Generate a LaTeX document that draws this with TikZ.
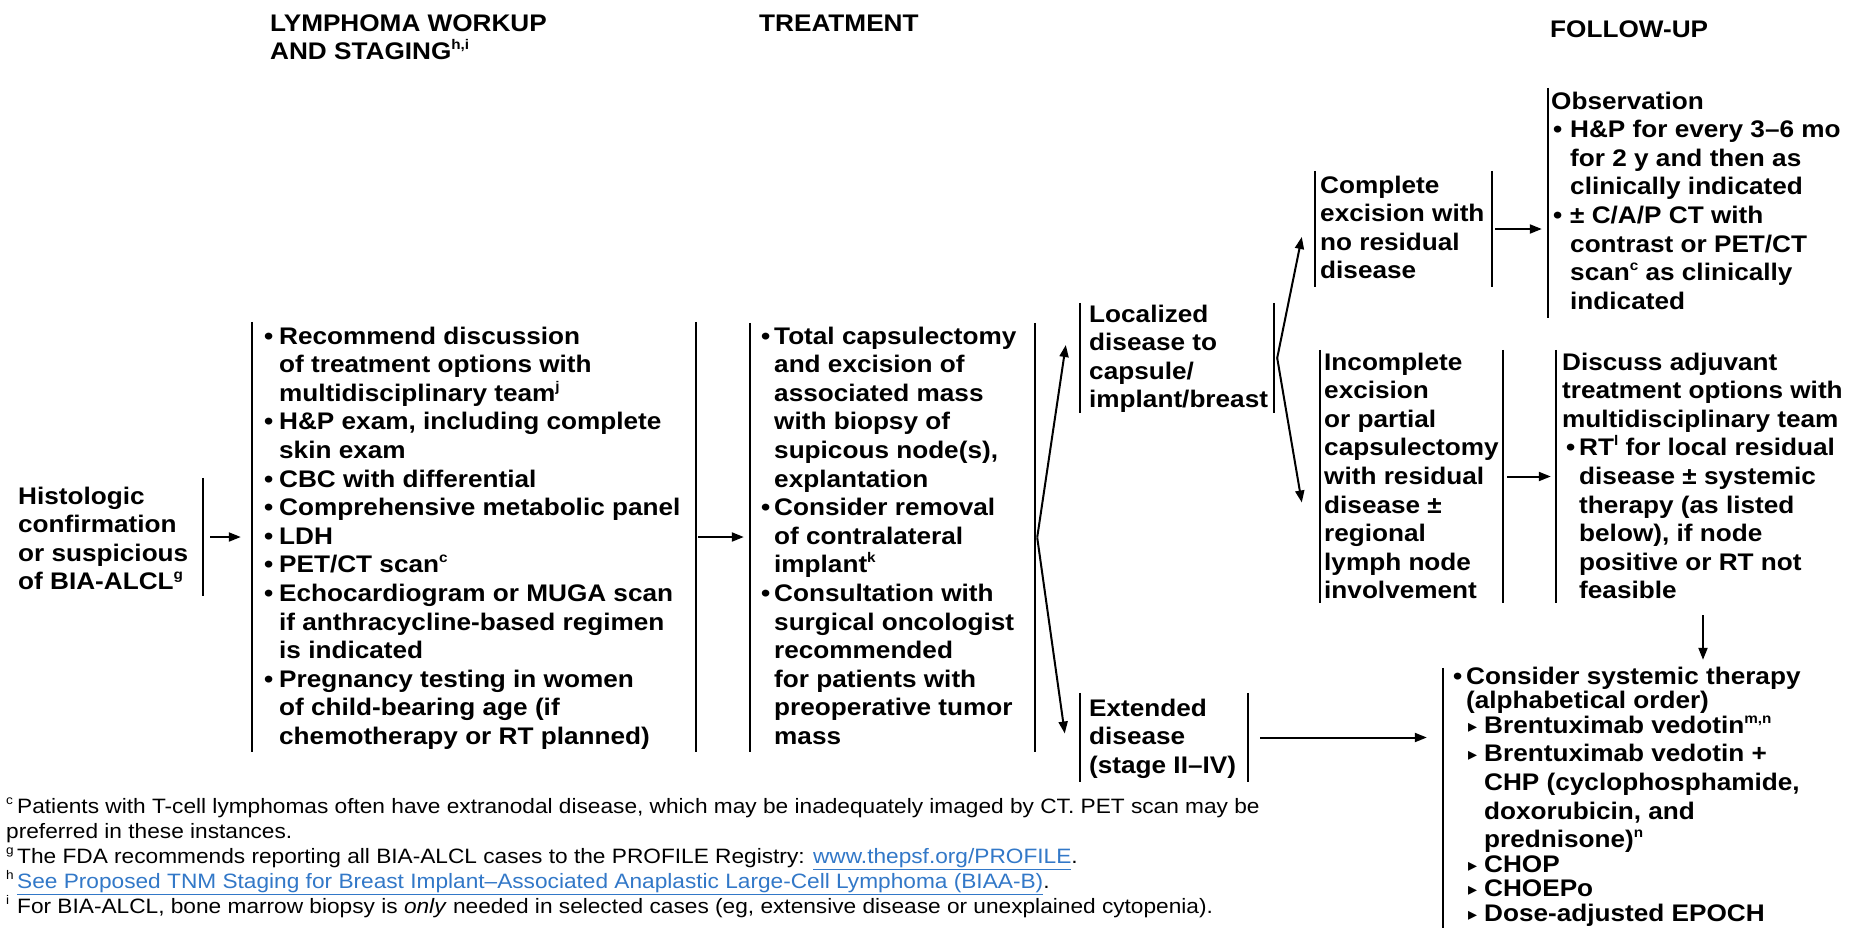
\documentclass[tikz,border=0pt]{standalone}
\usepackage{fontspec}
\setmainfont{Liberation Sans}[FakeStretch=1.09]
\newfontfamily\djv{DejaVu Sans}
\usetikzlibrary{arrows.meta,fit}
\definecolor{linkblue}{RGB}{50,120,200}
\newcommand\bodyf{\bfseries\fontsize{24}{28.6}\selectfont}
\newcommand\footf{\mdseries\fontsize{20.8}{25}\selectfont}
\newcommand\sps[1]{\raisebox{0.42em}{\fontsize{14}{14}\selectfont #1}}
\newcommand\fsp[1]{\makebox[11pt][l]{\raisebox{0.4em}{\fontsize{12.5}{12.5}\selectfont #1}}}
\newcommand\bi[1]{\makebox[#1][l]{\textbullet}}
\newcommand\tri{\makebox[16pt][l]{\djv\fontsize{18}{18}\selectfont\raisebox{1pt}{▸}}}
\newcommand\lnk[1]{\textcolor{linkblue}{\underline{#1}}}
\begin{document}
\begin{tikzpicture}[x=1pt,y=-1pt,
  vbar/.style={line width=2pt},
  lr/.style={inner sep=0pt, append after command={(\tikzlastnode.north west) edge[vbar] (\tikzlastnode.south west) (\tikzlastnode.north east) edge[vbar] (\tikzlastnode.south east)}},
  lonly/.style={inner sep=0pt, append after command={(\tikzlastnode.north west) edge[vbar] (\tikzlastnode.south west)}},
  ronly/.style={inner sep=0pt, append after command={(\tikzlastnode.north east) edge[vbar] (\tikzlastnode.south east)}},
  arr/.style={line width=2pt, -{Triangle[length=12pt,width=9pt]}},
  txt/.style={anchor=base west, inner sep=0pt, align=left, font=\bodyf},
  foottxt/.style={anchor=base west, inner sep=0pt, align=left, font=\footf}]
\useasboundingbox (0,0) rectangle (1864,927);
\fill[white] (0,0) rectangle (1864,927);

% headers (anchor = baseline of last line)
\node[txt] (hwork) at (270,59.6) {LYMPHOMA WORKUP\\AND STAGING\sps{h,i}};
\node[txt] (htreat) at (759,31) {TREATMENT};
\node[txt] (hfollow) at (1550,37) {FOLLOW-UP};

% frames
\node[ronly, fit={(150,478) (203,596)}] (hbox) {};
\node[lr, fit={(252,322) (696,752)}] (wbox) {};
\node[lr, fit={(750,323) (1035,752)}] (tbox) {};
\node[lr, fit={(1080,303) (1274,413)}] (lbox) {};
\node[lr, fit={(1080,693) (1248,782)}] (ebox) {};
\node[lr, fit={(1315,171) (1492,287)}] (cbox) {};
\node[lr, fit={(1320,350) (1503,603)}] (ibox) {};
\node[lonly, fit={(1548,88) (1700,318)}] (obox) {};
\node[lonly, fit={(1556,350) (1800,603)}] (dbox) {};
\node[lonly, fit={(1443,668) (1800,932)}] (kbox) {};

% texts (anchor = baseline of last line)
\node[txt] (histT) at (18,589.8) {Histologic\\confirmation\\or suspicious\\of BIA-ALCL\sps{g}};
\node[txt] (workT) at (264,744.4) {\bi{15pt}Recommend discussion\\
\hspace*{15pt}of treatment options with\\
\hspace*{15pt}multidisciplinary team\sps{j}\\
\bi{15pt}H\&P exam, including complete\\
\hspace*{15pt}skin exam\\
\bi{15pt}CBC with differential\\
\bi{15pt}Comprehensive metabolic panel\\
\bi{15pt}LDH\\
\bi{15pt}PET/CT scan\sps{c}\\
\bi{15pt}Echocardiogram or MUGA scan\\
\hspace*{15pt}if anthracycline-based regimen\\
\hspace*{15pt}is indicated\\
\bi{15pt}Pregnancy testing in women\\
\hspace*{15pt}of child-bearing age (if\\
\hspace*{15pt}chemotherapy or RT planned)};
\node[txt] (treatT) at (761,744.4) {\bi{13pt}Total capsulectomy\\
\hspace*{13pt}and excision of\\
\hspace*{13pt}associated mass\\
\hspace*{13pt}with biopsy of\\
\hspace*{13pt}supicous node(s),\\
\hspace*{13pt}explantation\\
\bi{13pt}Consider removal\\
\hspace*{13pt}of contralateral\\
\hspace*{13pt}implant\sps{k}\\
\bi{13pt}Consultation with\\
\hspace*{13pt}surgical oncologist\\
\hspace*{13pt}recommended\\
\hspace*{13pt}for patients with\\
\hspace*{13pt}preoperative tumor\\
\hspace*{13pt}mass};
\node[txt] (locT) at (1089,407.8) {Localized\\disease to\\capsule/\\implant/breast};
\node[txt] (extT) at (1089,773.2) {Extended\\disease\\(stage II--IV)};
\node[txt] (compT) at (1320,278.8) {Complete\\excision with\\no residual\\disease};
\node[txt] (incT) at (1324,598.8) {Incomplete\\excision\\or partial\\capsulectomy\\with residual\\disease ±\\regional\\lymph node\\involvement};
\node[txt] (obsT) at (1551,309.2) {Observation\\
\hspace*{2pt}\bi{17pt}H\&P for every 3--6 mo\\
\hspace*{19pt}for 2 y and then as\\
\hspace*{19pt}clinically indicated\\
\hspace*{2pt}\bi{17pt}± C/A/P CT with\\
\hspace*{19pt}contrast or PET/CT\\
\hspace*{19pt}scan\sps{c} as clinically\\
\hspace*{19pt}indicated};
\node[txt] (discT) at (1562,598.8) {Discuss adjuvant\\
treatment options with\\
multidisciplinary team\\
\hspace*{4pt}\bi{13pt}RT\sps{l} for local residual\\
\hspace*{17pt}disease ± systemic\\
\hspace*{17pt}therapy (as listed\\
\hspace*{17pt}below), if node\\
\hspace*{17pt}positive or RT not\\
\hspace*{17pt}feasible};
\node[txt] (consT) at (1453,921.4) {\bi{13pt}Consider systemic therapy\\[-4pt]
\hspace*{13pt}(alphabetical order)\\[-4pt]
\hspace*{15pt}\tri Brentuximab vedotin\sps{m,n}\\
\hspace*{15pt}\tri Brentuximab vedotin +\\
\hspace*{31pt}CHP (cyclophosphamide,\\
\hspace*{31pt}doxorubicin, and\\
\hspace*{31pt}prednisone)\sps{n}\\[-4pt]
\hspace*{15pt}\tri CHOP\\[-4pt]
\hspace*{15pt}\tri CHOEPo\\[-4pt]
\hspace*{15pt}\tri Dose-adjusted EPOCH};

% footnotes
\node[foottxt] (notes) at (6,913) {\fsp{c}Patients with T-cell lymphomas often have extranodal disease, which may be inadequately imaged by CT. PET scan may be\\
preferred in these instances.\\
\fsp{g}The FDA recommends reporting all BIA-ALCL cases to the PROFILE Registry: \lnk{www.thepsf.org/PROFILE}.\\
\fsp{h}\lnk{See Proposed TNM Staging for Breast Implant--Associated Anaplastic Large-Cell Lymphoma (BIAA-B)}.\\
\fsp{i}For BIA-ALCL, bone marrow biopsy is \textit{only} needed in selected cases (eg, extensive disease or unexplained cytopenia).};

% connectors
\draw[arr, shorten <=7pt, shorten >=11pt] (hbox.east) -- (hbox.east -| wbox.west);
\draw[arr, shorten <=2pt, shorten >=6pt] (wbox.east) -- (wbox.east -| tbox.west);
\draw[arr] ([xshift=2pt]tbox.east) -- ([xshift=-14pt,yshift=13pt]lbox.west);
\draw[arr] ([xshift=2pt]tbox.east) -- ([xshift=-15pt,yshift=4pt]ebox.west);
\draw[arr] ([xshift=3pt]lbox.east) -- ([xshift=-13pt,yshift=-8pt]cbox.west);
\draw[arr] ([xshift=3pt]lbox.east) -- ([xshift=-18pt,yshift=-26pt]ibox.west);
\draw[arr, shorten <=3pt, shorten >=6pt] (cbox.east) -- (cbox.east -| obox.west);
\draw[arr, shorten <=4pt, shorten >=5pt] (ibox.east) -- (ibox.east -| dbox.west);
\coordinate (dn) at (1703,0);
\draw[arr, shorten <=12pt, shorten >=8pt] (dn |- dbox.south) -- (dn |- kbox.north);
\draw[arr, shorten <=12pt, shorten >=16pt] (ebox.east) -- (ebox.east -| kbox.west);
\end{tikzpicture}
\end{document}
